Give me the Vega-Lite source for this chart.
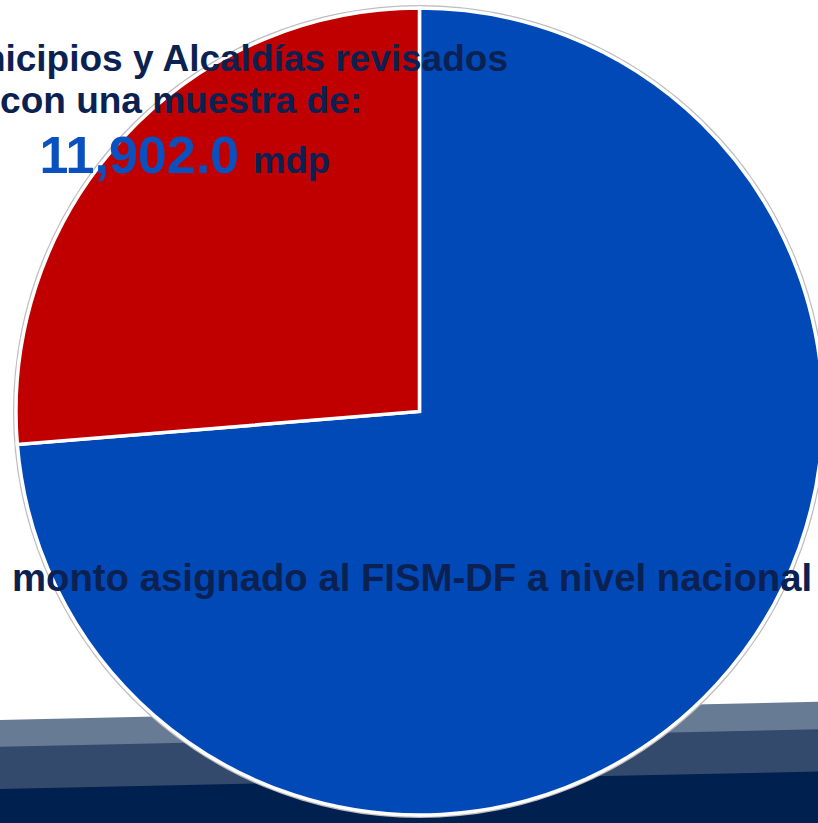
{
  "$schema": "https://vega.github.io/schema/vega-lite/v6.json",
  "width": 818,
  "height": 823,
  "padding": 0,
  "autosize": {"type": "none"},
  "background": "white",
  "config": {"view": {"stroke": null}},
  "datasets": {
    "bandas": [
      {"banda": "1 claro", "x": 0, "top": 87.48},
      {"banda": "1 claro", "x": 100, "top": 85.26},
      {"banda": "2 medio", "x": 0, "top": 90.73},
      {"banda": "2 medio", "x": 100, "top": 88.62},
      {"banda": "3 oscuro", "x": 0, "top": 95.87},
      {"banda": "3 oscuro", "x": 100, "top": 93.74}
    ],
    "pastel": [
      {"categoria": "Monto nacional restante", "valor": 73.7},
      {"categoria": "Muestra revisada", "valor": 26.3}
    ]
  },
  "layer": [
    {
      "data": {"name": "bandas"},
      "mark": {"type": "area", "interpolate": "linear"},
      "encoding": {
        "x": {"field": "x", "type": "quantitative", "axis": null, "scale": {"domain": [0, 100], "nice": false, "zero": false}},
        "y": {"field": "top", "type": "quantitative", "axis": null, "stack": null, "scale": {"domain": [0, 100], "nice": false, "zero": false, "reverse": true}},
        "y2": {"datum": 100},
        "color": {"field": "banda", "type": "nominal", "legend": null, "scale": {"domain": ["1 claro", "2 medio", "3 oscuro"], "range": ["#687b95", "#344a6c", "#00204f"]}}
      }
    },
    {
      "data": {"values": [{}]},
      "mark": {"type": "arc", "theta": 0, "theta2": 6.2832, "outerRadius": 406.5, "fill": "#bdbdbd"},
      "encoding": {
        "x": {"datum": 51.28, "type": "quantitative"},
        "y": {"datum": 50.0, "type": "quantitative"}
      }
    },
    {
      "data": {"name": "pastel"},
      "mark": {"type": "arc", "outerRadius": 403.5, "stroke": "white", "strokeWidth": 3.5},
      "encoding": {
        "x": {"datum": 51.28, "type": "quantitative"},
        "y": {"datum": 50.0, "type": "quantitative"},
        "theta": {"field": "valor", "type": "quantitative", "stack": true},
        "order": {"field": "categoria", "sort": "ascending"},
        "fill": {"field": "categoria", "type": "nominal", "legend": null, "scale": {"domain": ["Monto nacional restante", "Muestra revisada"], "range": ["#0049b7", "#c00000"]}}
      }
    },
    {
      "data": {"values": [{}]},
      "mark": {"type": "text", "text": "Municipios y Alcaldías revisados", "font": "Liberation Sans", "fontWeight": "bold", "fontSize": 37, "align": "right", "baseline": "alphabetic", "color": "#0b2151"},
      "encoding": {
        "x": {"datum": 62.10, "type": "quantitative"},
        "y": {"datum": 8.63, "type": "quantitative"}
      }
    },
    {
      "data": {"values": [{}]},
      "mark": {"type": "text", "text": "con una muestra de:", "font": "Liberation Sans", "fontWeight": "bold", "fontSize": 37, "align": "right", "baseline": "alphabetic", "color": "#0b2151"},
      "encoding": {
        "x": {"datum": 44.25, "type": "quantitative"},
        "y": {"datum": 13.73, "type": "quantitative"}
      }
    },
    {
      "data": {"values": [{}]},
      "mark": {"type": "text", "text": "11,902.0", "font": "Liberation Sans", "fontWeight": "bold", "fontSize": 52, "align": "right", "baseline": "alphabetic", "color": "#0a50be"},
      "encoding": {
        "x": {"datum": 29.22, "type": "quantitative"},
        "y": {"datum": 21.08, "type": "quantitative"}
      }
    },
    {
      "data": {"values": [{}]},
      "mark": {"type": "text", "text": "mdp", "font": "Liberation Sans", "fontWeight": "bold", "fontSize": 36.5, "align": "left", "baseline": "alphabetic", "color": "#0b2151"},
      "encoding": {
        "x": {"datum": 30.93, "type": "quantitative"},
        "y": {"datum": 21.08, "type": "quantitative"}
      }
    },
    {
      "data": {"values": [{}]},
      "mark": {"type": "text", "text": "monto asignado al FISM-DF a nivel nacional", "font": "Liberation Sans", "fontWeight": "bold", "fontSize": 38.3, "align": "left", "baseline": "alphabetic", "color": "#0b2151"},
      "encoding": {
        "x": {"datum": 1.47, "type": "quantitative"},
        "y": {"datum": 71.81, "type": "quantitative"}
      }
    }
  ]
}
